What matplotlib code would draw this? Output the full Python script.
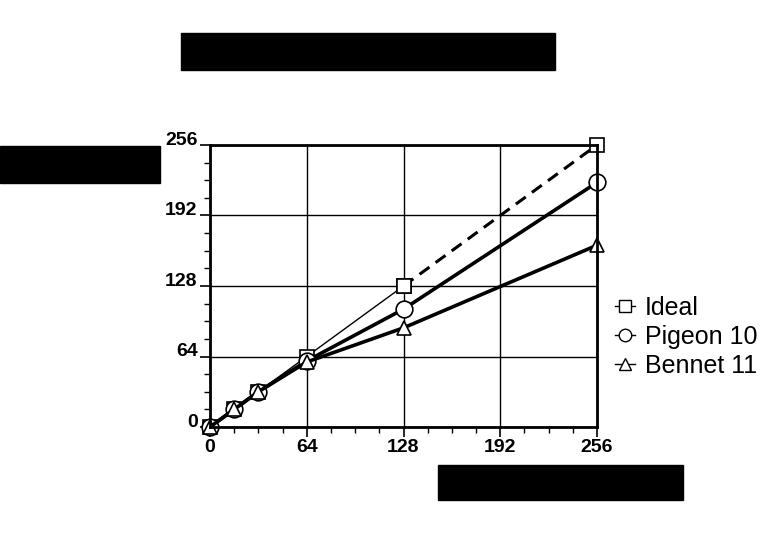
import matplotlib
matplotlib.use('Agg')
import matplotlib.pyplot as plt
import matplotlib.transforms as mtransforms
from matplotlib.patches import Rectangle
from matplotlib.ticker import MultipleLocator

# data
procs = [0, 16, 32, 64, 128, 256]
ideal = [0, 16, 32, 64, 128, 256]
pigeon = [0, 16, 32, 60, 107, 222]
bennet = [0, 16, 32, 59, 90, 165]
ticks = [0, 64, 128, 192, 256]

plt.rcParams['font.family'] = ['Liberation Sans', 'DejaVu Sans']

fig = plt.figure(figsize=(7.6, 5.38), dpi=100)
ax = fig.add_axes([210/760, 111/538, 387/760, 282/538])

mk = dict(markerfacecolor='white', markeredgecolor='black', markeredgewidth=1.2, clip_on=False)

# ideal: thin solid up to 128, dashed after
ax.plot(procs[:5], ideal[:5], color='black', lw=1.0, marker='s', markersize=10, **mk)
ax.plot(procs[4:], ideal[4:], color='black', lw=2.2, ls=(0, (4, 2.5)), marker='s', markersize=10, **mk)
ax.plot(procs, pigeon, color='black', lw=2.6, marker='o', markersize=12, **mk)
ax.plot(procs, bennet, color='black', lw=2.6, marker='^', markersize=10, **mk)

# legend handles only
ax.plot([], [], color='black', lw=1, marker='s', markersize=9, markerfacecolor='white', label='Ideal')
ax.plot([], [], color='black', lw=1, marker='o', markersize=9, markerfacecolor='white', label='Pigeon 10')
ax.plot([], [], color='black', lw=1, marker='^', markersize=9, markerfacecolor='white', label='Bennet 11')
h, l = ax.get_legend_handles_labels()
ax.legend(h[-3:], l[-3:], loc='center left', bbox_to_anchor=(1.02, 0.32), frameon=False,
          fontsize=18, handlelength=0.8, handletextpad=0.4, labelspacing=0.2, borderaxespad=0)

ax.set_xlim(0, 256)
ax.set_ylim(0, 256)
ax.set_xticks(ticks)
ax.set_yticks(ticks)
ax.xaxis.set_minor_locator(MultipleLocator(16))
ax.yaxis.set_minor_locator(MultipleLocator(16))
ax.grid(True, which='major', color='black', lw=1.0)
ax.set_axisbelow(True)
for s in ax.spines.values():
    s.set_linewidth(2)
ax.tick_params(which='major', direction='out', length=7, width=1.2, labelsize=14, pad=2)
ax.tick_params(which='minor', direction='out', length=4, width=1)
for t in ax.get_xticklabels() + ax.get_yticklabels():
    t.set_fontweight('bold')
off = mtransforms.ScaledTranslation(0, 5/72, fig.dpi_scale_trans)
for t in ax.get_yticklabels():
    t.set_transform(t.get_transform() + off)

# redacted title / axis labels shown as black boxes
for x0, y0, w, hh in [(181, 33, 374, 37), (0, 146, 160, 37), (438, 465, 245, 35)]:
    fig.patches.append(Rectangle((x0/760, 1 - (y0 + hh)/538), w/760, hh/538,
                                 transform=fig.transFigure, color='black'))

fig.savefig('out.png', dpi=100)
